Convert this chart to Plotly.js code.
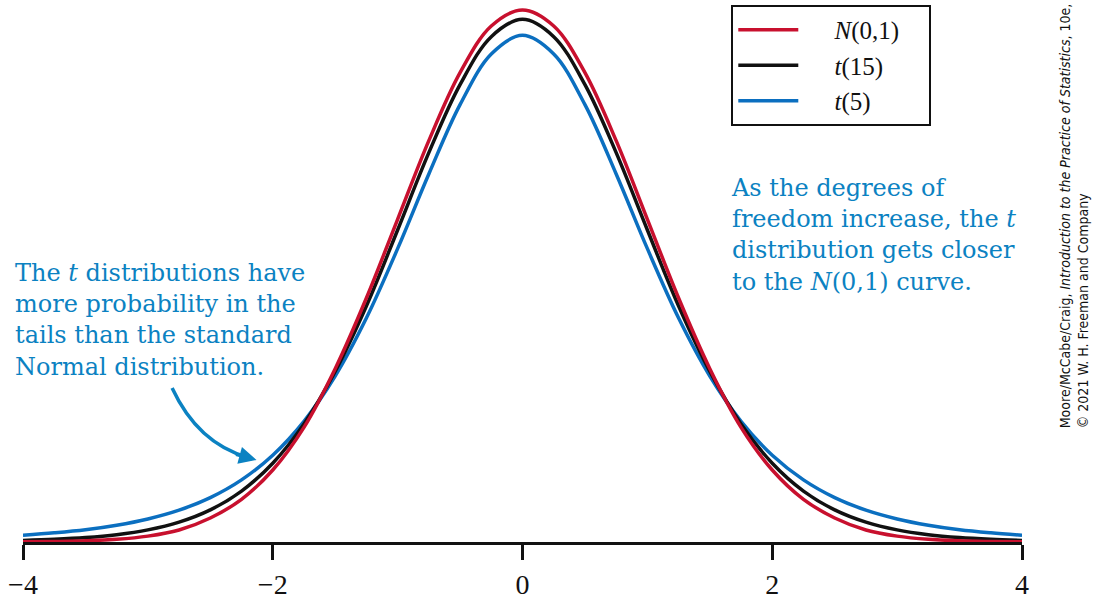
<!DOCTYPE html>
<html>
<head>
<meta charset="utf-8">
<script src="https://cdn.plot.ly/plotly-3.0.1.min.js"></script>
<style>
  html, body { margin: 0; padding: 0; background: #fff; }
  #chart { width: 1093px; height: 607px; }
</style>
</head>
<body>
<div id="chart"></div>
<script>
// density values, x from -4 to 4 in steps of 0.25
var xs = [-4, -3.75, -3.5, -3.25, -3, -2.75, -2.5, -2.25, -2, -1.75, -1.5, -1.25, -1, -0.75, -0.5, -0.25,
  0, 0.25, 0.5, 0.75, 1, 1.25, 1.5, 1.75, 2, 2.25, 2.5, 2.75, 3, 3.25, 3.5, 3.75, 4];

var normal = [0.0001, 0.0004, 0.0009, 0.002, 0.0044, 0.009, 0.018, 0.032, 0.054, 0.086, 0.130, 0.183, 0.242, 0.301, 0.352, 0.387,
  0.399, 0.387, 0.352, 0.301, 0.242, 0.183, 0.130, 0.086, 0.054, 0.032, 0.018, 0.009, 0.0044, 0.002, 0.0009, 0.0004, 0.0001];

var t15 = [0.0012, 0.0020, 0.0033, 0.0055, 0.0091, 0.0149, 0.0241, 0.0382, 0.0591, 0.0886, 0.128, 0.177, 0.234, 0.292, 0.343, 0.379,
  0.392, 0.379, 0.343, 0.292, 0.234, 0.177, 0.128, 0.0886, 0.0591, 0.0382, 0.0241, 0.0149, 0.0091, 0.0055, 0.0033, 0.0020, 0.0012];

var t5 = [0.0051, 0.0069, 0.0092, 0.0126, 0.0173, 0.0239, 0.0333, 0.0466, 0.0651, 0.0905, 0.1245, 0.168, 0.220, 0.276, 0.328, 0.366,
  0.380, 0.366, 0.328, 0.276, 0.220, 0.168, 0.1245, 0.0905, 0.0651, 0.0466, 0.0333, 0.0239, 0.0173, 0.0126, 0.0092, 0.0069, 0.0051];

var tickVals = [-4, -2, 0, 2, 4];

var serif = 'Liberation Serif, DejaVu Serif, serif';
var noteFont = 'DejaVu Serif, Liberation Serif, serif';
var noteBlue = '#0b82c2';
var pad = '\u00a0\u00a0\u00a0\u00a0\u00a0';
var tail = '\u00a0\u00a0\u00a0\u00a0';

var red = {
  x: xs, y: normal, name: pad + '<i>N</i>(0,1)' + tail, type: 'scatter', mode: 'lines',
  line: {color: '#c8102e', width: 3.5, shape: 'spline'}
};
var black = {
  x: xs, y: t15, name: pad + '<i>t</i>(15)', type: 'scatter', mode: 'lines',
  line: {color: '#111111', width: 3.5, shape: 'spline'}
};
var blue = {
  x: xs, y: t5, name: pad + '<i>t</i>(5)', type: 'scatter', mode: 'lines',
  line: {color: '#0b6fc0', width: 3.5, shape: 'spline'}
};

var data = [blue, black, red];

var layout = {
  width: 1093,
  height: 607,
  margin: {l: 23, r: 71, t: 0, b: 65},
  paper_bgcolor: '#fff',
  plot_bgcolor: '#fff',
  showlegend: true,
  legend: {
    x: 0.709, y: 0.991, xanchor: 'left', yanchor: 'top',
    traceorder: 'reversed',
    bordercolor: '#111', borderwidth: 2,
    font: {family: serif, size: 25, color: '#111'},
    itemwidth: 60,
    tracegroupgap: 0
  },
  xaxis: {
    range: [-4, 4],
    tickvals: tickVals,
    ticktext: tickVals.map(function (v) { return v < 0 ? '\u2212' + (-v) : String(v); }),
    ticks: 'outside', ticklen: 15, tickwidth: 3, tickcolor: '#111',
    showline: true, linewidth: 3, linecolor: '#111',
    showgrid: false, zeroline: false,
    tickfont: {family: serif, size: 28, color: '#111'}
  },
  yaxis: {
    range: [0, 0.4065],
    visible: false,
    showgrid: false, zeroline: false
  },
  shapes: [{
    type: 'path', xref: 'x', yref: 'y',
    path: 'M -2.806,0.1155 Q -2.60,0.074 -2.20,0.0635',
    line: {color: noteBlue, width: 3.5}
  }],
  annotations: [
    {
      xref: 'paper', yref: 'paper', x: -0.01, y: 0.41,
      xanchor: 'left', yanchor: 'middle', align: 'left', showarrow: false,
      text: 'The <i>t</i> distributions have<br>more probability in the<br>tails than the standard<br>Normal distribution.',
      font: {family: noteFont, size: 24, color: noteBlue}
    },
    {
      xref: 'paper', yref: 'paper', x: 0.707, y: 0.566,
      xanchor: 'left', yanchor: 'middle', align: 'left', showarrow: false,
      text: 'As the degrees of<br>freedom increase, the <i>t</i><br>distribution gets closer<br>to the <i>N</i>(0,1) curve.',
      font: {family: noteFont, size: 24, color: noteBlue}
    },
    {
      xref: 'x', yref: 'y', x: -2.13, y: 0.0615,
      ax: -22, ay: -6, showarrow: true, text: '',
      arrowhead: 2, arrowsize: 1, arrowwidth: 3.5, arrowcolor: noteBlue
    },
    {
      xref: 'paper', yref: 'paper', x: 1.052, y: 0.207,
      xanchor: 'center', yanchor: 'bottom', align: 'left', showarrow: false,
      textangle: -90,
      text: 'Moore/McCabe/Craig, <i>Introduction to the Practice of Statistics</i>, 10e,<br>\u00a9 2021 W. H. Freeman and Company',
      font: {family: 'Liberation Sans Narrow, DejaVu Sans Condensed, sans-serif', size: 14, color: '#111'}
    }
  ]
};

Plotly.newPlot('chart', data, layout, {displayModeBar: false, staticPlot: true});
</script>
</body>
</html>
